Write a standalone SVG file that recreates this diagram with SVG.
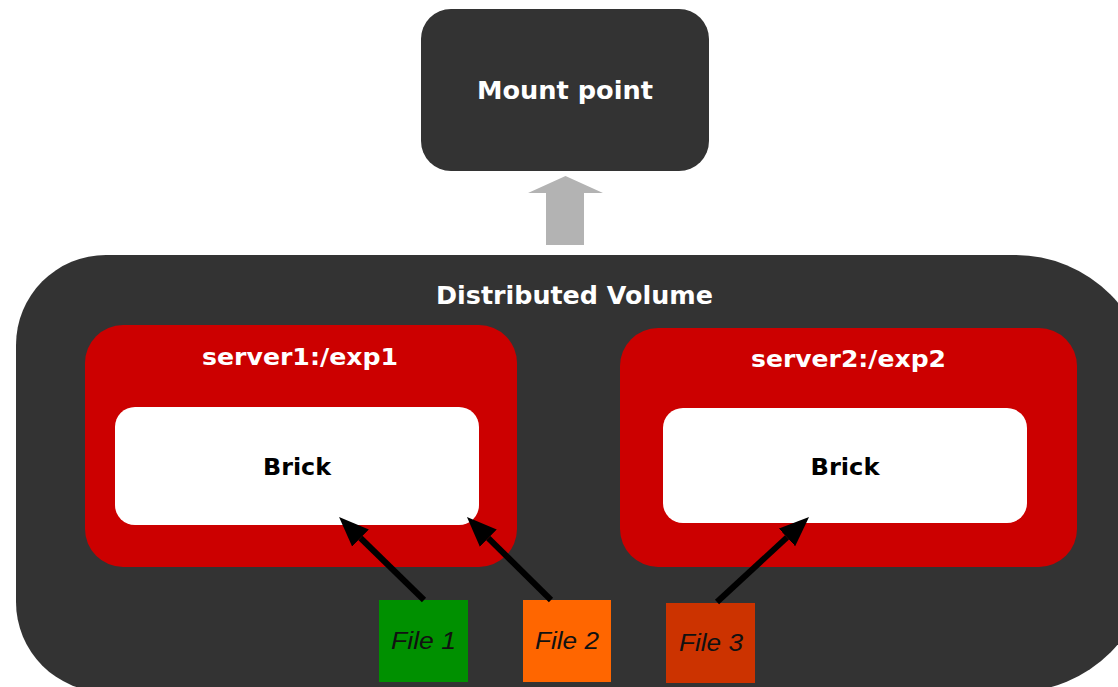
<svg xmlns="http://www.w3.org/2000/svg" width="1118" height="687" viewBox="0 0 1118 687">
  <defs>
    <style>
      .dark { fill: #333333; }
      .server { fill: #cc0000; }
      .brick { fill: #ffffff; }
      .title { font-family: "DejaVu Sans", Verdana, sans-serif; font-weight: bold; fill: #ffffff; text-anchor: middle; }
      .brickText { font-family: "DejaVu Sans", Verdana, sans-serif; font-weight: bold; fill: #000000; text-anchor: middle; font-size: 23px; }
      .fileText { font-family: "Liberation Sans", Arial, sans-serif; font-style: italic; fill: #111111; text-anchor: middle; font-size: 23px; }
      .conn { stroke: #000000; stroke-width: 6; fill: none; marker-end: url(#head); }
    </style>
    <marker id="head" markerUnits="userSpaceOnUse" markerWidth="32" markerHeight="26" refX="0" refY="12" orient="auto" viewBox="0 0 32 24">
      <path d="M0,0 L30,12 L0,24 Z" fill="#000000"/>
    </marker>
  </defs>
  <rect width="1118" height="687" fill="#ffffff"/>

  <g id="mount-point">
    <rect class="dark" x="421" y="9" width="288" height="162" rx="30" ry="30"/>
    <text class="title" x="565" y="99" font-size="24" textLength="176" lengthAdjust="spacingAndGlyphs">Mount point</text>
  </g>

  <g id="mount-arrow">
    <polygon points="565.5,176 603,193 584,193 584,245 546,245 546,193 528,193" fill="#b3b3b3"/>
  </g>

  <g id="distributed-volume">
    <path class="dark" d="M106,255 H1015 A135,135 0 0 1 1150,390 V557 A135,135 0 0 1 1015,692 H106 A90,90 0 0 1 16,602 V345 A90,90 0 0 1 106,255 Z"/>
    <text class="title" x="574.5" y="304" font-size="24" textLength="277" lengthAdjust="spacingAndGlyphs">Distributed Volume</text>
  </g>

  <g id="server1">
    <rect class="server" x="85" y="325" width="432" height="242" rx="38" ry="38"/>
    <text class="title" x="300" y="365" font-size="23" textLength="196" lengthAdjust="spacingAndGlyphs">server1:/exp1</text>
  </g>
  <g id="brick1">
    <rect class="brick" x="115" y="407" width="364" height="118" rx="20" ry="20"/>
    <text class="brickText" x="297" y="475" textLength="68" lengthAdjust="spacingAndGlyphs">Brick</text>
  </g>

  <g id="server2">
    <rect class="server" x="620" y="328" width="457" height="239" rx="38" ry="38"/>
    <text class="title" x="848.5" y="367" font-size="23" textLength="195" lengthAdjust="spacingAndGlyphs">server2:/exp2</text>
  </g>
  <g id="brick2">
    <rect class="brick" x="663" y="408" width="364" height="115" rx="20" ry="20"/>
    <text class="brickText" x="845" y="475" textLength="69" lengthAdjust="spacingAndGlyphs">Brick</text>
  </g>

  <g id="file1">
    <rect x="379" y="600" width="89" height="82" fill="#009000"/>
    <text class="fileText" x="423.5" y="649" textLength="65" lengthAdjust="spacingAndGlyphs">File 1</text>
  </g>
  <g id="file2">
    <rect x="523" y="600" width="88" height="82" fill="#ff6600"/>
    <text class="fileText" x="567" y="649" textLength="64" lengthAdjust="spacingAndGlyphs">File 2</text>
  </g>
  <g id="file3">
    <rect x="666" y="603" width="89" height="80" fill="#cc3300"/>
    <text class="fileText" x="711" y="651" textLength="64" lengthAdjust="spacingAndGlyphs">File 3</text>
  </g>

  <g id="connectors">
    <line class="conn" x1="424" y1="600" x2="360.5" y2="538"/>
    <line class="conn" x1="551" y1="600" x2="488.3" y2="538.1"/>
    <line class="conn" x1="717" y1="602" x2="787" y2="537.4"/>
  </g>
</svg>
